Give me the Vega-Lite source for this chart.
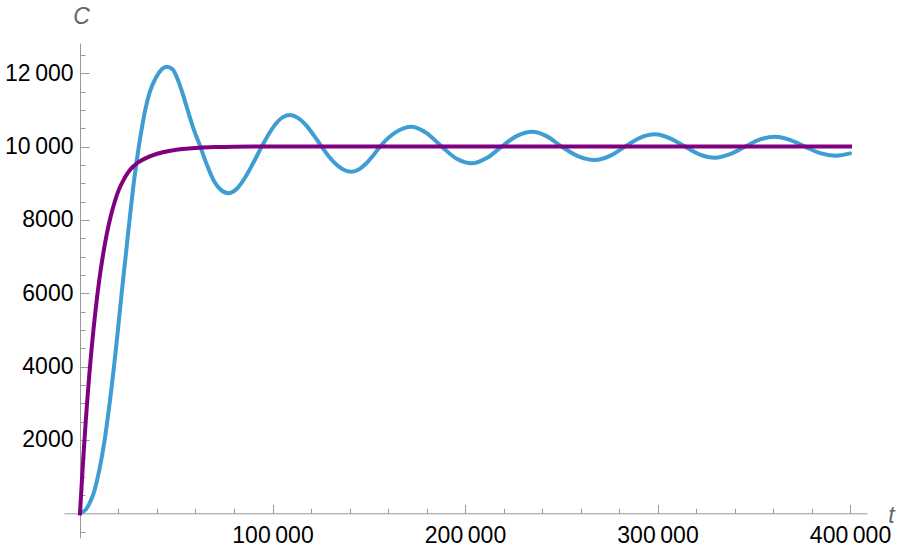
{
  "$schema": "https://vega.github.io/schema/vega-lite/v6.json",
  "width": 803,
  "height": 495,
  "autosize": {"type": "none"},
  "padding": {"left": 64, "top": 43, "right": 30, "bottom": 15},
  "background": "white",
  "config": {
    "view": {"stroke": null},
    "axis": {
      "grid": false,
      "domainColor": "#9a9a9a",
      "domainWidth": 1,
      "tickColor": "#9a9a9a",
      "tickWidth": 1,
      "labelFont": "Liberation Sans",
      "labelFontSize": 23,
      "labelColor": "#000000",
      "titleFont": "Liberation Sans",
      "titleFontSize": 23,
      "titleFontStyle": "italic",
      "titleFontWeight": "normal",
      "titleColor": "#666666"
    }
  },
  "datasets": {
    "blue": [
      {"t": 0, "c": 0}, {"t": 3000, "c": 100}, {"t": 5000, "c": 280}, {"t": 6800, "c": 500},
      {"t": 9300, "c": 1000}, {"t": 11200, "c": 1500}, {"t": 12800, "c": 2000}, {"t": 14150, "c": 2500},
      {"t": 15400, "c": 3000}, {"t": 16550, "c": 3500}, {"t": 17650, "c": 4000}, {"t": 18700, "c": 4500},
      {"t": 19700, "c": 5000}, {"t": 20650, "c": 5500}, {"t": 21650, "c": 6000}, {"t": 22650, "c": 6500},
      {"t": 23700, "c": 7000}, {"t": 24700, "c": 7500}, {"t": 25750, "c": 8000}, {"t": 26800, "c": 8500},
      {"t": 27900, "c": 9000}, {"t": 29150, "c": 9500}, {"t": 30550, "c": 10000}, {"t": 32100, "c": 10500},
      {"t": 33900, "c": 11000}, {"t": 36300, "c": 11500}, {"t": 39400, "c": 11880}, {"t": 42500, "c": 12110},
      {"t": 45000, "c": 12180}, {"t": 48100, "c": 12110}, {"t": 50700, "c": 11840}, {"t": 53000, "c": 11500},
      {"t": 55900, "c": 11000}, {"t": 58900, "c": 10500}, {"t": 62500, "c": 10000}, {"t": 65800, "c": 9520},
      {"t": 69800, "c": 9040}, {"t": 73200, "c": 8820}, {"t": 77000, "c": 8730}, {"t": 81350, "c": 8845},
      {"t": 85700, "c": 9150}, {"t": 90050, "c": 9560}, {"t": 94400, "c": 10000}, {"t": 98100, "c": 10345},
      {"t": 101750, "c": 10622}, {"t": 105400, "c": 10804}, {"t": 109100, "c": 10862}, {"t": 113200, "c": 10785},
      {"t": 117300, "c": 10594}, {"t": 121400, "c": 10314}, {"t": 125500, "c": 10000}, {"t": 129400, "c": 9724},
      {"t": 133300, "c": 9505}, {"t": 137200, "c": 9362}, {"t": 141100, "c": 9316}, {"t": 144800, "c": 9376},
      {"t": 148500, "c": 9533}, {"t": 152200, "c": 9751}, {"t": 155850, "c": 10000}, {"t": 164100, "c": 10396},
      {"t": 172300, "c": 10543}, {"t": 180100, "c": 10368}, {"t": 187900, "c": 10000}, {"t": 195700, "c": 9668},
      {"t": 203500, "c": 9545}, {"t": 211300, "c": 9689}, {"t": 219050, "c": 10000}, {"t": 227000, "c": 10293},
      {"t": 235000, "c": 10407}, {"t": 242600, "c": 10279}, {"t": 250200, "c": 10000}, {"t": 258900, "c": 9735},
      {"t": 267500, "c": 9635}, {"t": 275300, "c": 9749}, {"t": 283100, "c": 10000}, {"t": 290900, "c": 10240},
      {"t": 298700, "c": 10335}, {"t": 306500, "c": 10226}, {"t": 314300, "c": 10000}, {"t": 322100, "c": 9784},
      {"t": 329900, "c": 9698}, {"t": 337700, "c": 9795}, {"t": 345500, "c": 10000}, {"t": 353300, "c": 10197},
      {"t": 361000, "c": 10270}, {"t": 368800, "c": 10185}, {"t": 376600, "c": 10000}, {"t": 384400, "c": 9822},
      {"t": 392500, "c": 9752}, {"t": 400000, "c": 9815}
    ],
    "purple": [
      {"t": 0, "c": 0}, {"t": 1000, "c": 900}, {"t": 2000, "c": 1740}, {"t": 3000, "c": 2520},
      {"t": 4000, "c": 3230}, {"t": 5000, "c": 3880}, {"t": 6000, "c": 4470}, {"t": 7000, "c": 5010},
      {"t": 8000, "c": 5500}, {"t": 9000, "c": 5950}, {"t": 10000, "c": 6360}, {"t": 12000, "c": 7060},
      {"t": 14000, "c": 7640}, {"t": 16000, "c": 8110}, {"t": 18000, "c": 8490}, {"t": 20000, "c": 8800},
      {"t": 22500, "c": 9080}, {"t": 25000, "c": 9300}, {"t": 27500, "c": 9450}, {"t": 30000, "c": 9560},
      {"t": 34000, "c": 9680}, {"t": 38000, "c": 9770}, {"t": 43000, "c": 9845}, {"t": 50000, "c": 9915},
      {"t": 55000, "c": 9945}, {"t": 62000, "c": 9972}, {"t": 70000, "c": 9988}, {"t": 80000, "c": 9998},
      {"t": 90000, "c": 10000}, {"t": 400000, "c": 10000}
    ]
  },
  "layer": [
    {
      "data": {"name": "blue"},
      "mark": {"type": "line", "color": "#3E9DD2", "strokeWidth": 4, "interpolate": "monotone", "strokeCap": "round"},
      "encoding": {
        "x": {
          "field": "t", "type": "quantitative",
          "scale": {"domain": [-8311, 408828], "nice": false, "zero": false},
          "axis": {
            "orient": "bottom", "offset": -24.7,
            "values": [100000, 200000, 300000, 400000],
            "tickSize": -9, "labelPadding": 20,
            "labelExpr": "datum.value >= 10000 ? replace(format(datum.value, ','), ',', '\u2009') : format(datum.value, 'd')",
            "title": "t", "titleX": 827, "titleY": 9, "titleAlign": "center", "titleBaseline": "alphabetic", "titleAngle": 0
          }
        },
        "y": {
          "field": "c", "type": "quantitative",
          "scale": {"domain": [-674, 12826], "nice": false, "zero": false},
          "axis": {
            "orient": "left", "offset": -16,
            "values": [2000, 4000, 6000, 8000, 10000, 12000],
            "tickSize": -9, "labelPadding": 16,
            "labelExpr": "datum.value >= 10000 ? replace(format(datum.value, ','), ',', '\u2009') : format(datum.value, 'd')",
            "title": "C", "titleX": 1, "titleY": -20, "titleAlign": "center", "titleBaseline": "alphabetic", "titleAngle": 0
          }
        }
      }
    },
    {
      "data": {"name": "purple"},
      "mark": {"type": "line", "color": "#800080", "strokeWidth": 4, "interpolate": "monotone", "strokeCap": "square"},
      "encoding": {
        "x": {
          "field": "t", "type": "quantitative",
          "axis": {
            "orient": "bottom", "offset": -24.7, "domain": false, "labels": false, "title": null,
            "tickSize": -5,
            "values": [20000, 40000, 60000, 80000, 120000, 140000, 160000, 180000, 220000, 240000, 260000, 280000, 320000, 340000, 360000, 380000]
          }
        },
        "y": {
          "field": "c", "type": "quantitative",
          "axis": {
            "orient": "left", "offset": -16, "domain": false, "labels": false, "title": null,
            "tickSize": -5,
            "values": [-500, 500, 1000, 1500, 2500, 3000, 3500, 4500, 5000, 5500, 6500, 7000, 7500, 8500, 9000, 9500, 10500, 11000, 11500, 12500]
          }
        }
      }
    }
  ],
  "resolve": {"axis": {"x": "independent", "y": "independent"}}
}
